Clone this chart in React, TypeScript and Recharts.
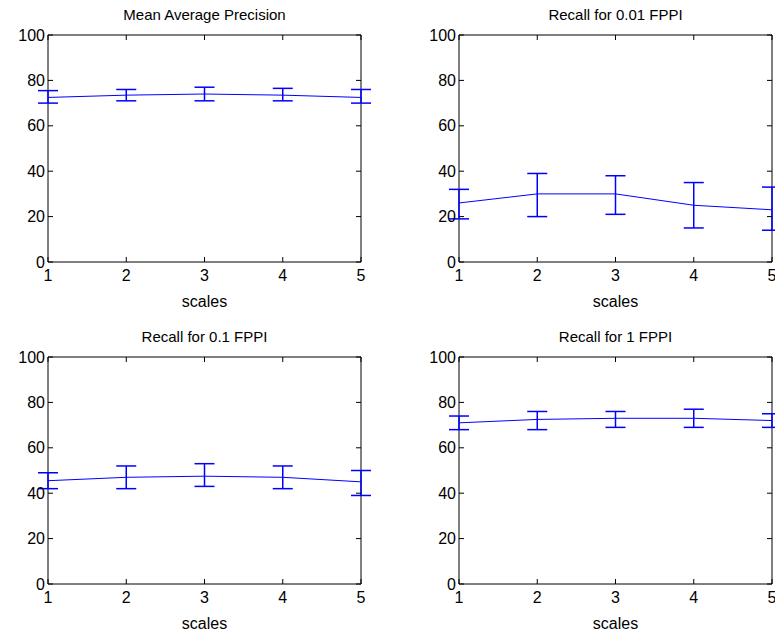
import React from 'react';
import { LineChart, Line, XAxis, YAxis, ErrorBar, ReferenceArea } from 'recharts';

const scales = [1, 2, 3, 4, 5];
const mapMean = [72.5, 73.5, 74, 73.5, 72.5];
const mapUp = [75.5, 76, 77, 76.5, 76];
const mapLow = [70, 71, 71, 71, 70];
const r001Mean = [26, 30, 30, 25, 23];
const r001Up = [32, 39, 38, 35, 33];
const r001Low = [19, 20, 21, 15, 14];
const r01Mean = [45.5, 47, 47.5, 47, 45];
const r01Up = [49, 52, 53, 52, 50];
const r01Low = [42, 42, 43, 42, 39];
const r1Mean = [71, 72.5, 73, 73, 72];
const r1Up = [74, 76, 76, 77, 75];
const r1Low = [68, 68, 69, 69, 69];
const yTicks = [0, 20, 40, 60, 80, 100];

const build = (m: number[], u: number[], l: number[]) =>
  scales.map((s, i) => ({ s, v: m[i], e: [m[i] - l[i], u[i] - m[i]] }));

const FF = 'Liberation Sans, Arial, sans-serif';
const plotL = 48, plotT = 35, plotW = 313, plotH = 227;

const YTick = ({ x, y, payload }: any) => (
  <g>
    <line x1={x} x2={x + 5} y1={y} y2={y} stroke="#000" />
    <line x1={x + plotW} x2={x + plotW - 5} y1={y} y2={y} stroke="#000" />
    <text x={x - 3} y={y} dy="0.35em" textAnchor="end" fontFamily={FF} fontSize={16} fill="#000">{payload.value}</text>
  </g>
);
const XTick = ({ x, y, payload }: any) => (
  <g>
    <line x1={x} x2={x} y1={y} y2={y - 5} stroke="#000" />
    <line x1={x} x2={x} y1={y - plotH} y2={y - plotH + 5} stroke="#000" />
    <text x={x} y={y + 19} textAnchor="middle" fontFamily={FF} fontSize={16} fill="#000">{payload.value}</text>
  </g>
);

function Panel({ left, top, title, data }: any) {
  const W = plotL + plotW + 12, H = plotT + plotH + 50;
  return (
    <div style={{ position: 'absolute', left, top, width: W, height: H }}>
      <div style={{ position: 'absolute', left: plotL, width: plotW, top: 6, textAlign: 'center', fontFamily: FF, fontSize: 15, color: '#000' }}>{title}</div>
      <LineChart width={W} height={H} data={data} margin={{ left: plotL - 40, top: plotT, right: 12, bottom: 0 }}>
        <XAxis dataKey="s" type="number" domain={[1, 5]} ticks={scales} height={50}
          axisLine={false} tickLine={false} tickSize={0} tickMargin={0} tick={<XTick />}
          label={{ value: 'scales', position: 'insideBottom', offset: 5, style: { fontFamily: FF, fontSize: 16, fill: '#000' } }} />
        <YAxis domain={[0, 100]} ticks={yTicks} width={40} axisLine={false}
          tickLine={false} tickSize={0} tickMargin={0} tick={<YTick />} />
        <ReferenceArea x1={1} x2={5} y1={0} y2={100} fill="none" stroke="#000" strokeWidth={1} ifOverflow="visible" />
        <Line dataKey="v" stroke="#0000ff" strokeWidth={1} dot={false} isAnimationActive={false}>
          <ErrorBar dataKey="e" width={10} stroke="#0000ff" strokeWidth={1.5} direction="y" />
        </Line>
      </LineChart>
    </div>
  );
}

export default function App() {
  return (
    <div style={{ position: 'absolute', left: 0, top: 0, width: 775, height: 632, background: '#fff', overflow: 'hidden' }}>
      <Panel left={0} top={0} title="Mean Average Precision" data={build(mapMean, mapUp, mapLow)} />
      <Panel left={411} top={0} title="Recall for 0.01 FPPI" data={build(r001Mean, r001Up, r001Low)} />
      <Panel left={0} top={322} title="Recall for 0.1 FPPI" data={build(r01Mean, r01Up, r01Low)} />
      <Panel left={411} top={322} title="Recall for 1 FPPI" data={build(r1Mean, r1Up, r1Low)} />
    </div>
  );
}
